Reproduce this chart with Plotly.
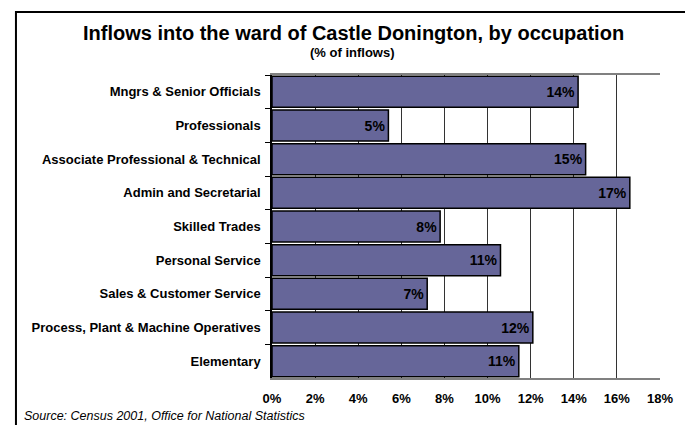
import plotly.graph_objects as go

categories = [
    "Mngrs & Senior Officials",
    "Professionals",
    "Associate Professional & Technical",
    "Admin and Secretarial",
    "Skilled Trades",
    "Personal Service",
    "Sales & Customer Service",
    "Process, Plant & Machine Operatives",
    "Elementary",
]
values = [14.2, 5.4, 14.55, 16.6, 7.8, 10.6, 7.2, 12.1, 11.45]
x_ticks = [0, 2, 4, 6, 8, 10, 12, 14, 16, 18]

title = "Inflows into the ward of Castle Donington, by occupation"
subtitle = "(% of inflows)"
source = "Source: Census 2001, Office for National Statistics"

W, H = 685, 425
L, R, T, B = 272, 19, 75, 47
pw, ph = W - L - R, H - T - B

def px(x):
    return (x - L) / pw

def py(y):
    return (H - B - y) / ph

FONT = "Liberation Sans, Arial, sans-serif"

fig = go.Figure(go.Bar(
    y=categories,
    x=values,
    orientation="h",
    marker=dict(color="#666699", line=dict(color="#000000", width=1.5)),
    texttemplate="%{x:.0f}%",
    textposition="inside",
    insidetextanchor="end",
    textfont=dict(family=FONT, size=14, color="#000000", weight="bold"),
    cliponaxis=False,
))

fig.update_layout(
    width=W, height=H,
    margin=dict(l=L, r=R, t=T, b=B),
    paper_bgcolor="white",
    plot_bgcolor="white",
    bargap=0.08,
    showlegend=False,
    font=dict(family=FONT, color="#000000"),
)

fig.update_xaxes(
    range=[0, 18],
    tickvals=x_ticks,
    ticktext=[f"{v}%" for v in x_ticks],
    showgrid=True,
    gridcolor="#333333",
    gridwidth=1,
    zeroline=False,
    showline=True,
    linecolor="#808080",
    linewidth=1.5,
    mirror=True,
    ticks="",
    ticklabelstandoff=8,
    tickfont=dict(family=FONT, size=13, color="#000000", weight="bold"),
)

fig.update_yaxes(
    autorange="reversed",
    type="category",
    showgrid=False,
    showline=True,
    linecolor="#000000",
    linewidth=1.5,
    ticks="outside",
    tickson="boundaries",
    ticklen=5,
    tickcolor="#000000",
    ticklabelstandoff=7,
    tickfont=dict(family=FONT, size=13, color="#000000", weight="bold"),
)

fig.add_annotation(
    text=f"<b>{title}</b>", xref="paper", yref="paper",
    x=px(355), y=py(33), xanchor="center", yanchor="middle",
    showarrow=False, font=dict(family=FONT, size=20, color="#000000"),
)
fig.add_annotation(
    text=f"<b>{subtitle}</b>", xref="paper", yref="paper",
    x=px(354), y=py(52), xanchor="center", yanchor="middle",
    showarrow=False, font=dict(family=FONT, size=13, color="#000000"),
)
fig.add_annotation(
    text=f"<i>{source}</i>", xref="paper", yref="paper",
    x=px(18), y=py(416), xanchor="left", yanchor="middle",
    showarrow=False, font=dict(family=FONT, size=12.5, color="#000000"),
)

fig.add_shape(
    type="rect", xref="paper", yref="paper",
    x0=px(12), x1=px(720), y0=py(12), y1=py(460),
    line=dict(color="#000000", width=2), fillcolor="rgba(0,0,0,0)",
    layer="below",
)

fig.write_html("out.html")
